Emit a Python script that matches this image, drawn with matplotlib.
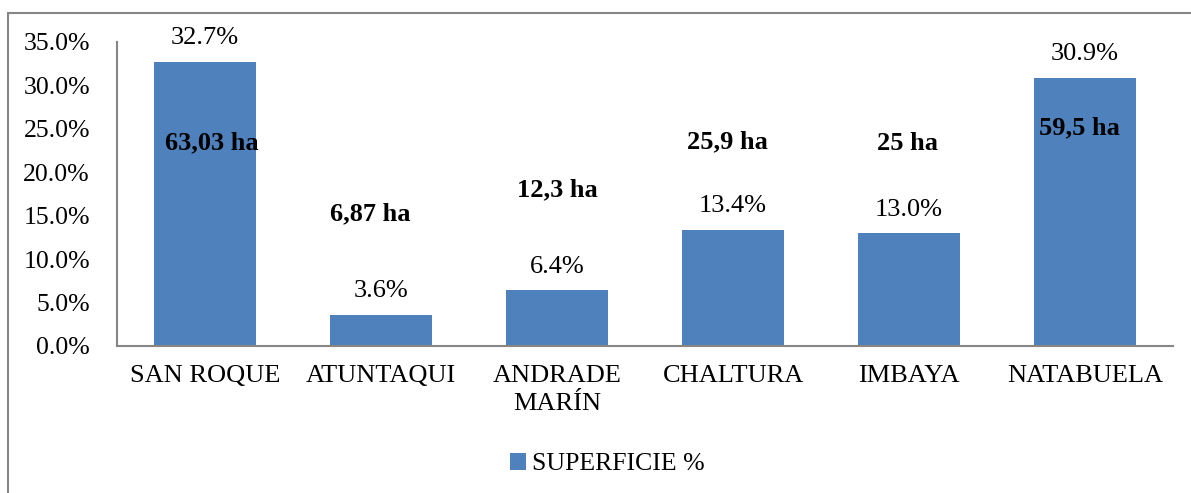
import matplotlib

matplotlib.use("Agg")
import matplotlib.pyplot as plt
from matplotlib.patches import Rectangle
from matplotlib.ticker import FuncFormatter

# data
parroquias = ["SAN ROQUE", "ATUNTAQUI", "ANDRADE\nMARÍN", "CHALTURA", "IMBAYA", "NATABUELA"]
superficie_pct = [32.7, 3.6, 6.4, 13.4, 13.0, 30.9]
hectareas = ["63,03 ha", "6,87 ha", "12,3 ha", "25,9 ha", "25 ha", "59,5 ha"]
ha_label_y = [23.4, 15.2, 18.0, 23.5, 23.3, 25.1]
ha_label_dx = [0.04, -0.06, 0.0, -0.03, -0.01, -0.03]

plt.rcParams["font.family"] = ["Liberation Serif", "DejaVu Serif"]
BLUE = "#4f81bd"
GRAY = "#868686"

fig = plt.figure(figsize=(11.91, 4.93), dpi=100)
ax = fig.add_axes([117 / 1191, 1 - 346 / 493, (1173 - 117) / 1191, (346 - 42) / 493])

x = list(range(len(parroquias)))
bars = ax.bar(x, superficie_pct, width=0.575, color=BLUE)

for bar, val in zip(bars, superficie_pct):
    ax.annotate(
        f"{val:.1f}%",
        (bar.get_x() + bar.get_width() / 2, val),
        xytext=(0, 9),
        textcoords="offset points",
        ha="center",
        va="bottom",
        fontsize=19,
    )

for xi, lab, ly, dx in zip(x, hectareas, ha_label_y, ha_label_dx):
    ax.text(xi + dx, ly, lab, ha="center", va="center", fontsize=19, fontweight="bold")

ax.set_xlim(-0.5, len(parroquias) - 0.5)
ax.set_ylim(0, 35)
ax.set_yticks([0, 5, 10, 15, 20, 25, 30, 35])
ax.yaxis.set_major_formatter(FuncFormatter(lambda v, _: f"{v:.1f}%"))
ax.set_xticks(x)
ax.set_xticklabels(parroquias, fontsize=19, linespacing=1.35)
ax.tick_params(axis="y", labelsize=18.5, length=0, pad=19.5)
ax.tick_params(axis="x", length=0, pad=14)

for side in ["top", "right"]:
    ax.spines[side].set_visible(False)
for side in ["left", "bottom"]:
    ax.spines[side].set_color(GRAY)
    ax.spines[side].set_linewidth(1.5)

fig.legend(
    [bars[0]],
    ["SUPERFICIE %"],
    loc="center",
    bbox_to_anchor=(607 / 1191, 1 - 464 / 493),
    frameon=False,
    fontsize=18.5,
    handlelength=0.65,
    handleheight=0.65,
    handletextpad=0.2,
)

# outer chart frame, cut off at right and bottom like the reference
fig.patches.append(
    Rectangle(
        (8 / 1191, -0.1),
        1.2,
        1.1 - 13 / 493,
        transform=fig.transFigure,
        fill=False,
        edgecolor=GRAY,
        linewidth=1.5,
    )
)

fig.savefig("out.png", dpi=100)
